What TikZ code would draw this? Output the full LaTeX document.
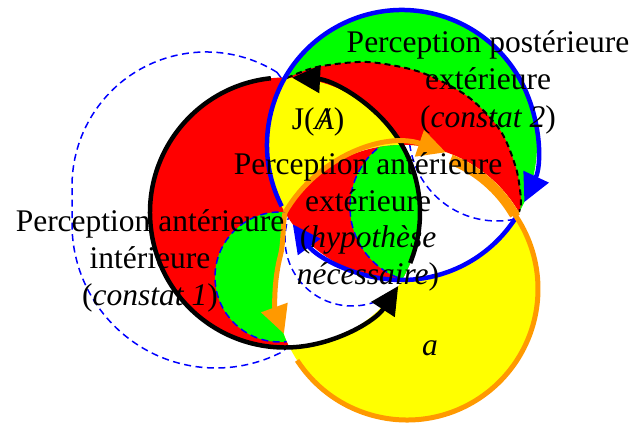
\documentclass[tikz,border=0pt]{standalone}
\usepackage{fontspec}
\setmainfont{Liberation Serif}
\usetikzlibrary{arrows.meta,calc}
\definecolor{myred}{RGB}{255,0,0}
\definecolor{mygreen}{RGB}{0,255,0}
\definecolor{myyellow}{RGB}{255,255,0}
\definecolor{myorange}{RGB}{255,153,0}
\definecolor{myblue}{RGB}{0,0,255}
\begin{document}
\begin{tikzpicture}[x=1pt,y=1pt,
  kline/.style={line width=4.5pt,black},
  bline/.style={line width=4.5pt,myblue},
  oline/.style={line width=5pt,myorange},
  bdash/.style={myblue,line width=1.5pt,dash pattern=on 7pt off 4.5pt},
  kdash/.style={black,line width=2pt,dash pattern=on 6pt off 4pt},
  tip/.style={-{Triangle[length=28pt,width=27pt]}},
  lbl/.style={font=\fontsize{31.5}{37}\selectfont,inner sep=0pt,anchor=base}]
\useasboundingbox (0,0) rectangle (634,423);
\coordinate (Kc) at (285,210.5);
\coordinate (Bc) at (402,278);
\coordinate (Ot) at (402,143);
\coordinate (Ol) at (407,134);
\def\Kp{(285,210.5) circle[radius=135]}
\def\Bp{(402,278) circle[radius=135]}
\def\Op{(519,210.5) -- ([shift={(35:131)}]407,134) arc[start angle=35,end angle=-195,radius=131] .. controls (283.6,179.5) and (282.6,198.5) .. (285,210.5) arc[start angle=150,end angle=30,radius=135] -- cycle}
% large dashed contour on the left
\draw[bdash] ([shift={(58:134)}]206,237) arc[start angle=58,end angle=180,radius=134] -- ([shift={(180:144)}]216,199) arc[start angle=180,end angle=298,radius=144] -- (320,123) -- (330,273) -- (300,320) -- cycle;
% blue circle: green
\fill[mygreen] \Bp;
% red crescent
\fill[myred] plot[smooth] coordinates {(287,345) (317,356) (367,361) (420,351) (467,327) (500,293) (516,255) (521,223) (519,211)} -- (430,213) -- (330,313) -- cycle;
% black circle
\fill[myred] \Kp;
\begin{scope}
  \clip \Kp;
  \fill[myyellow] \Bp;
  \fill[mygreen] (280,146) circle[radius=65];
  \draw[bdash] (280,146) circle[radius=65];
\end{scope}
% orange circle
\fill[myyellow] \Op;
\begin{scope}
  \clip \Op;
  \fill[white] \Bp;
  \begin{scope}
    \clip \Bp;
    \draw[bdash] (497,290) circle[radius=88];
  \end{scope}
  \fill[white] \Kp;
  \begin{scope}
    \clip \Kp;
    \draw[bdash] (352,184) circle[radius=67];
  \end{scope}
  \begin{scope}
    \clip \Kp;
    \fill[myred] \Bp;
    \clip \Bp;
    \fill[mygreen] (426,216) circle[radius=76];
    \draw[bdash] (426,216) circle[radius=76];
  \end{scope}
  \begin{scope}
    \clip \Bp;
    \fill[myorange] ($(Ot)+(30:137)$) arc[start angle=30,end angle=68,radius=137] -- ($(Ot)+(68:125)$) arc[start angle=68,end angle=30,radius=125] -- cycle;
  \end{scope}
\end{scope}
% dashed black boundary of the red crescent
\draw[kdash] plot[smooth] coordinates {(287,345) (317,356) (367,361) (420,351) (467,327) (500,293) (516,255) (521,223) (519,211)};
% black arcs
\draw[kline,tip] ([shift={(-22:135)}]Kc) arc[start angle=-22,end angle=87,radius=135];
\draw[kline,tip] ([shift={(96:135)}]Kc) arc[start angle=96,end angle=327,radius=135];
% blue arcs
\draw[bline,tip] ([shift={(207:135)}]Bc) arc[start angle=207,end angle=-25,radius=135];
\draw[bline,tip] ([shift={(-33:135)}]Bc) arc[start angle=-33,end angle=-144,radius=135];
% orange arcs
\draw[oline] ([shift={(213:131)}]Ol) arc[start angle=213,end angle=395,radius=131] -- (519,210.5);
\draw[oline,tip] (Kc) arc[start angle=150,end angle=71,radius=135];
\draw[oline,tip] (Kc) .. controls (282.6,198.5) and (283.6,179.5) .. (280.5,167.9) arc[start angle=165,end angle=200,radius=131];
% texts
\node[lbl] (t1a) at (488,370) {Perception postérieure};
\node[lbl] (t1b) at (488,333) {extérieure};
\node[lbl] (t1c) at (488,295) {(\textit{constat 2})};
\node[lbl] (t2a) at (150,191) {Perception antérieure};
\node[lbl] (t2b) at (150,154) {intérieure};
\node[lbl] (t2c) at (150,117) {(\textit{constat 1})};
\node[lbl] (t3a) at (368,248) {Perception antérieure};
\node[lbl] (t3b) at (368,211) {extérieure};
\node[lbl] (t3c) at (368,175) {(\textit{hypothèse}};
\node[lbl] (t3d) at (368,138) {\textit{nécessaire})};
\node[lbl] (ja) at (318,293) {J(\textit{A\kern-0.445em/\kern0.167em})};
\node[lbl] (la) at (430,67) {\textit{a}};
\end{tikzpicture}
\end{document}
